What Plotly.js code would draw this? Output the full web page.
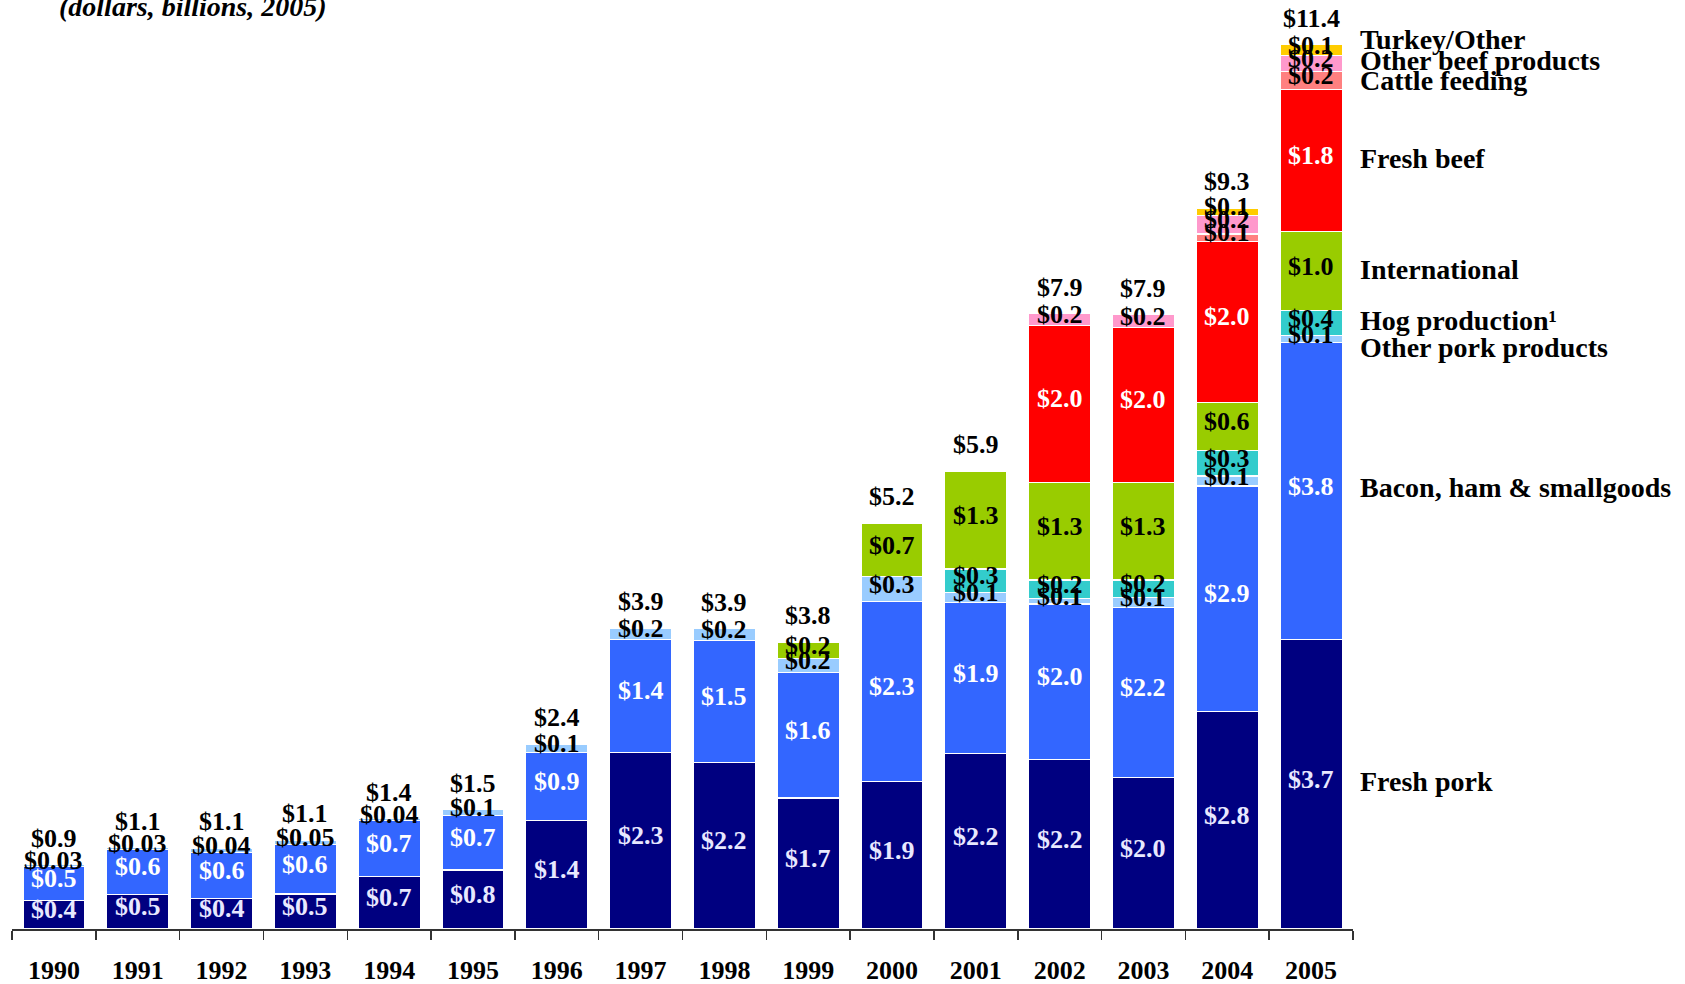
<!DOCTYPE html>
<html>
<head>
<meta charset="utf-8">
<script src="https://cdn.plot.ly/plotly-3.0.1.min.js"></script>
<style>html,body{margin:0;padding:0;background:#fff;}#chart{width:1685px;height:984px;}</style>
</head>
<body>
<div id="chart"></div>
<script>
// ---- categories ----
const years = ['1990','1991','1992','1993','1994','1995','1996','1997','1998','1999','2000','2001','2002','2003','2004','2005'];

// ---- series values (bar heights, $ billions) ----
const freshPork   = [0.37,0.44,0.39,0.45,0.68,0.76,1.40,2.28,2.15,1.69,1.90,2.26,2.18,1.95,2.80,3.73];
const bacon       = [0.44,0.59,0.60,0.64,0.72,0.70,0.88,1.45,1.57,1.62,2.32,1.95,2.01,2.19,2.91,3.83];
const otherPork   = [0.02,0.02,0.05,0.055,0.02,0.08,0.10,0.15,0.15,0.18,0.32,0.13,0.07,0.13,0.13,0.09];
const hogProd     = [0,0,0,0,0,0,0,0,0,0,0,0.30,0.24,0.23,0.33,0.32];
const intl        = [0,0,0,0,0,0,0,0,0,0.21,0.69,1.26,1.26,1.26,0.62,1.02];
const freshBeef   = [0,0,0,0,0,0,0,0,0,0,0,0,2.02,1.99,2.07,1.83];
const cattleFeed  = [0,0,0,0,0,0,0,0,0,0,0,0,0,0,0.10,0.23];
const otherBeef   = [0,0,0,0,0,0,0,0,0,0,0,0,0.15,0.17,0.24,0.21];
const turkeyOther = [0,0,0,0,0,0,0,0,0,0,0,0,0,0,0.09,0.14];

// ---- printed data labels ----
const freshPorkLbl   = [0.4,0.5,0.4,0.5,0.7,0.8,1.4,2.3,2.2,1.7,1.9,2.2,2.2,2.0,2.8,3.7];
const baconLbl       = [0.5,0.6,0.6,0.6,0.7,0.7,0.9,1.4,1.5,1.6,2.3,1.9,2.0,2.2,2.9,3.8];
const otherPorkLbl   = [0.03,0.03,0.04,0.05,0.04,0.1,0.1,0.2,0.2,0.2,0.3,0.1,0.1,0.1,0.1,0.1];
const hogProdLbl     = [0,0,0,0,0,0,0,0,0,0,0,0.3,0.2,0.2,0.3,0.4];
const intlLbl        = [0,0,0,0,0,0,0,0,0,0.2,0.7,1.3,1.3,1.3,0.6,1.0];
const freshBeefLbl   = [0,0,0,0,0,0,0,0,0,0,0,0,2.0,2.0,2.0,1.8];
const cattleFeedLbl  = [0,0,0,0,0,0,0,0,0,0,0,0,0,0,0.1,0.2];
const otherBeefLbl   = [0,0,0,0,0,0,0,0,0,0,0,0,0.2,0.2,0.2,0.2];
const turkeyOtherLbl = [0,0,0,0,0,0,0,0,0,0,0,0,0,0,0.1,0.1];
const totalLbl       = [0.9,1.1,1.1,1.1,1.4,1.5,2.4,3.9,3.9,3.8,5.2,5.9,7.9,7.9,9.3,11.4];

// ---- series names ----
const seriesNames = ['Fresh pork','Bacon, ham & smallgoods','Other pork products','Hog production\u00B9','International','Fresh beef','Cattle feeding','Other beef products','Turkey/Other'];

// ---- styles ----
const FONT = 'Liberation Serif, Times New Roman, serif';
const series = [
  {name: seriesNames[0], y: freshPork,   lbl: freshPorkLbl,   color: '#000080', txt: '#E8E8FF', side: 3},
  {name: seriesNames[1], y: bacon,       lbl: baconLbl,       color: '#3366FF', txt: '#FFFFFF', side: 4},
  {name: seriesNames[2], y: otherPork,   lbl: otherPorkLbl,   color: '#99CCFF', txt: '#000000', side: -8},
  {name: seriesNames[3], y: hogProd,     lbl: hogProdLbl,     color: '#33CCCC', txt: '#000000', side: 3},
  {name: seriesNames[4], y: intl,        lbl: intlLbl,        color: '#99CC00', txt: '#000000', side: 2},
  {name: seriesNames[5], y: freshBeef,   lbl: freshBeefLbl,   color: '#FF0000', txt: '#FFFFFF', side: 2},
  {name: seriesNames[6], y: cattleFeed,  lbl: cattleFeedLbl,  color: '#FF8080', txt: '#000000', side: 0},
  {name: seriesNames[7], y: otherBeef,   lbl: otherBeefLbl,   color: '#FF99CC', txt: '#000000', side: 3},
  {name: seriesNames[8], y: turkeyOther, lbl: turkeyOtherLbl, color: '#FFCC00', txt: '#000000', side: 11}
];

function fmt(v) { return '$' + (v < 0.1 ? v.toFixed(2) : v.toFixed(1)); }

const traces = series.map(s => ({
  type: 'bar',
  name: s.name,
  x: years,
  y: s.y,
  marker: {color: s.color, line: {color: '#FFFFFF', width: 1.2}},
  hoverinfo: 'x+y+name'
}));

const annotations = [];
const base = years.map(() => 0);
series.forEach((s, si) => {
  years.forEach((yr, i) => {
    const v = s.y[i];
    if (v > 0 && s.lbl[i] > 0) {
      annotations.push({
        x: i, y: base[i] + v / 2, xref: 'x', yref: 'y',
        text: fmt(s.lbl[i]), showarrow: false, yshift: 5,
        font: {family: FONT, size: 26, color: s.txt, weight: 'bold'}
      });
    }
  });
  // right-hand series label, beside the last bar
  const last = years.length - 1;
  annotations.push({
    x: 1.004, xref: 'paper', xanchor: 'left',
    y: base[last] + s.y[last] / 2, yref: 'y', yshift: s.side,
    text: s.name, showarrow: false,
    font: {family: FONT, size: 28, color: '#000000', weight: 'bold'}
  });
  years.forEach((yr, i) => { base[i] += s.y[i]; });
});

// totals above bars
years.forEach((yr, i) => {
  annotations.push({
    x: i, y: base[i], xref: 'x', yref: 'y', yanchor: 'bottom', yshift: 10,
    text: fmt(totalLbl[i]), showarrow: false,
    font: {family: FONT, size: 26, color: '#000000', weight: 'bold'}
  });
});

// cut-off subtitle at top
annotations.push({
  x: 0.0336, xref: 'paper', xanchor: 'left',
  y: 1, yref: 'paper', yanchor: 'bottom', yshift: -4,
  text: '(dollars, billions, 2005)', showarrow: false,
  font: {family: FONT, size: 28, color: '#000000', weight: 'bold', style: 'italic'}
});

const layout = {
  width: 1685, height: 984,
  margin: {l: 12, r: 332, t: 20, b: 55},
  paper_bgcolor: '#FFFFFF', plot_bgcolor: '#FFFFFF',
  barmode: 'stack', bargap: 0.26,
  showlegend: false,
  xaxis: {
    type: 'category', range: [-0.5, 15.5],
    tickson: 'boundaries', ticks: 'outside', ticklen: 9, tickwidth: 1.5, tickcolor: '#333333',
    showline: true, linecolor: '#333333', linewidth: 1.5,
    showgrid: false, zeroline: false,
    ticklabelstandoff: 17,
    tickfont: {family: FONT, size: 26, color: '#000000', weight: 'bold'}
  },
  yaxis: {range: [0, 11.718], visible: false, showgrid: false, zeroline: false},
  annotations: annotations
};

Plotly.newPlot('chart', traces, layout, {displayModeBar: false, staticPlot: true});
</script>
</body>
</html>
